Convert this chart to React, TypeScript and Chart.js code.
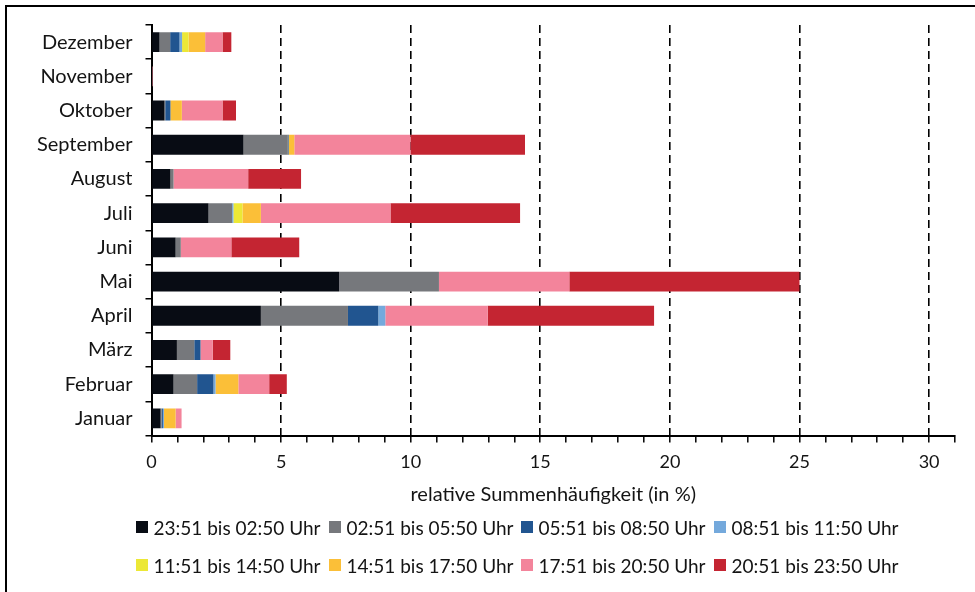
import React, { useEffect, useRef } from "react";
import { Chart, registerables } from "chart.js";

Chart.register(...registerables);

const months = [
  "Dezember", "November", "Oktober", "September", "August", "Juli",
  "Juni", "Mai", "April", "März", "Februar", "Januar",
];

const seriesNames = [
  "23:51 bis 02:50 Uhr",
  "02:51 bis 05:50 Uhr",
  "05:51 bis 08:50 Uhr",
  "08:51 bis 11:50 Uhr",
  "11:51 bis 14:50 Uhr",
  "14:51 bis 17:50 Uhr",
  "17:51 bis 20:50 Uhr",
  "20:51 bis 23:50 Uhr",
];

const seriesColors = [
  "#080c14", "#76787c", "#215590", "#74a9dc",
  "#ece836", "#fbbf38", "#f3849b", "#c42532",
];

// values in % ; order Dezember ... Januar
const s0250 = [0.31, 0, 0.5, 3.55, 0.73, 2.2, 0.93, 7.24, 4.22, 0.98, 0.85, 0.35];
const s0550 = [0.41, 0, 0.03, 1.71, 0.12, 0.91, 0.2, 3.85, 3.36, 0.67, 0.91, 0.04];
const s0850 = [0.36, 0, 0.2, 0.03, 0, 0, 0, 0, 1.17, 0.24, 0.63, 0.05];
const s1150 = [0.1, 0, 0, 0, 0, 0.05, 0, 0, 0.27, 0, 0.08, 0.04];
const s1450 = [0.25, 0, 0, 0, 0, 0.35, 0, 0, 0, 0, 0, 0];
const s1750 = [0.64, 0, 0.44, 0.22, 0, 0.71, 0, 0, 0, 0, 0.88, 0.45];
const s2050 = [0.67, 0.05, 1.57, 4.48, 2.88, 5.0, 1.95, 5.03, 3.95, 0.47, 1.19, 0.23];
const s2350 = [0.34, 0, 0.52, 4.42, 2.04, 5.0, 2.62, 8.88, 6.42, 0.68, 0.68, 0];

const seriesValues = [s0250, s0550, s0850, s1150, s1450, s1750, s2050, s2350];

const xMax = 31;
const xLabelStep = 5;
const axisTitle = "relative Summenhäufigkeit (in %)";

const FONT = "Lato, 'Open Sans', sans-serif";
const TEXT = "#141414";

export default function App() {
  const ref = useRef<HTMLCanvasElement | null>(null);

  useEffect(() => {
    if (!ref.current) return;
    const chart = new Chart(ref.current, {
      type: "bar",
      data: {
        labels: months,
        datasets: seriesNames.map((name, i) => ({
          label: name,
          data: seriesValues[i],
          backgroundColor: seriesColors[i],
          borderWidth: 0,
          barPercentage: 0.58,
          categoryPercentage: 1,
        })),
      },
      options: {
        indexAxis: "y",
        animation: false,
        responsive: true,
        maintainAspectRatio: false,
        layout: { padding: { top: 24.5, left: 0, right: 20, bottom: 81.5 } },
        plugins: {
          legend: { display: false },
          tooltip: { enabled: false },
        },
        scales: {
          x: {
            stacked: true,
            min: 0,
            max: xMax,
            afterFit: (s: any) => {
              s.height = 75;
            },
            ticks: {
              stepSize: 1,
              autoSkip: false,
              maxRotation: 0,
              padding: 9,
              color: TEXT,
              font: { family: FONT, size: 18 },
              callback: (v: any) =>
                Number(v) % xLabelStep === 0 && Number(v) <= 30 ? String(v) : "",
            },
            grid: {
              color: (ctx: any) =>
                ctx.tick && ctx.tick.value % xLabelStep === 0 && ctx.tick.value > 0 && ctx.tick.value <= 30
                  ? "#000"
                  : "rgba(0,0,0,0)",
              lineWidth: 1.6,
              tickColor: "#000",
              tickWidth: 1.5,
              tickLength: 7,
            },
            border: { display: true, color: "#000", width: 2, dash: [8, 5] },
            title: {
              display: true,
              text: axisTitle,
              color: TEXT,
              font: { family: FONT, size: 20 },
              padding: { top: 0, bottom: 4 },
            },
          },
          y: {
            stacked: true,
            afterFit: (s: any) => {
              s.width = 151.5;
            },
            ticks: {
              padding: 13,
              color: TEXT,
              font: { family: FONT, size: 20 },
            },
            grid: {
              drawOnChartArea: false,
              color: "#000",
              lineWidth: 1.5,
              tickLength: 6,
            },
            border: { display: true, color: "#000", width: 2 },
          },
        },
      },
    });
    return () => chart.destroy();
  }, []);

  const legendX = [136, 329, 521, 714];
  const legendY = [527, 565];

  return (
    <div style={{ position: "fixed", left: 0, top: 0, width: 975, height: 592, background: "#fff", overflow: "hidden" }}>
      <div
        style={{
          position: "absolute",
          left: 5,
          top: 5,
          width: 1000,
          height: 1000,
          borderLeft: "2px solid #000",
          borderTop: "2px solid #000",
        }}
      />
      <div style={{ position: "absolute", left: 0, top: 0, width: 975, height: 592 }}>
        <canvas ref={ref} />
      </div>
      {seriesNames.map((name, i) => (
        <div
          key={name}
          style={{
            position: "absolute",
            left: legendX[i % 4],
            top: legendY[Math.floor(i / 4)] - 12,
            height: 24,
            display: "flex",
            alignItems: "center",
            fontFamily: FONT,
            fontSize: 19,
            color: TEXT,
            whiteSpace: "nowrap",
          }}
        >
          <span
            style={{
              display: "inline-block",
              width: 11.5,
              height: 11.5,
              background: seriesColors[i],
              marginRight: 6,
            }}
          />
          <span>{name}</span>
        </div>
      ))}
    </div>
  );
}
